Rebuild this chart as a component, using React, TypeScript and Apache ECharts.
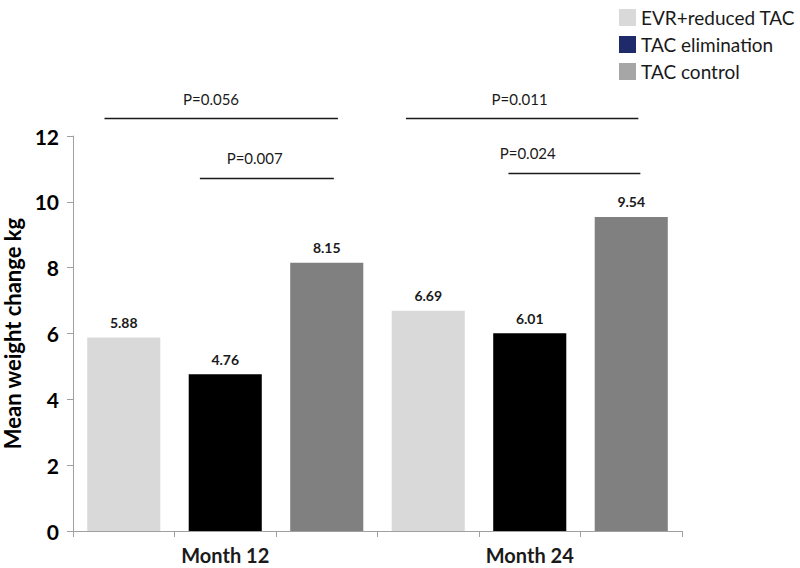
import React, { useEffect, useRef } from "react";
import * as echarts from "echarts";

const categories = ["M12-EVR", "M12-ELIM", "M12-CTRL", "M24-EVR", "M24-ELIM", "M24-CTRL"];
const groupLabels = ["Month 12", "Month 24"];
const seriesNames = ["EVR+reduced TAC", "TAC elimination", "TAC control"];
const evrValues = [5.88, null, null, 6.69, null, null];
const elimValues = [null, 4.76, null, null, 6.01, null];
const ctrlValues = [null, null, 8.15, null, null, 9.54];
const barColors = ["#d9d9d9", "#000000", "#808080"];
const legendColors = ["#d9d9d9", "#1f2a6b", "#a6a6a6"];
const yTicks = [0, 2, 4, 6, 8, 10, 12];

// significance annotations (x in category-slot units from axis start, y in data units)
const sigLabels = ["P=0.056", "P=0.007", "P=0.011", "P=0.024"];
const sigFrom = [0.31, 1.25, 3.28, 4.29];
const sigTo = [2.61, 2.57, 5.57, 5.59];
const sigLineY = [12.55, 10.72, 12.55, 10.87];
const sigTextX = [1.36, 1.79, 4.4, 4.48];
const sigTextY = [13.13, 11.33, 13.13, 11.48];

const FONT = "Lato, 'Open Sans', sans-serif";

export default function App() {
  const ref = useRef<HTMLDivElement>(null);
  useEffect(() => {
    if (!ref.current) return;
    const chart = echarts.init(ref.current, null, { renderer: "svg" });
    const seriesData = [evrValues, elimValues, ctrlValues];
    chart.setOption({
      animation: false,
      backgroundColor: "#ffffff",
      textStyle: { fontFamily: FONT },
      legend: {
        orient: "vertical",
        left: 614,
        top: 3,
        itemWidth: 17,
        itemHeight: 17,
        itemGap: 8,
        icon: "rect",
        textStyle: { fontSize: 19, color: "#1a1a1a", fontFamily: FONT },
        data: seriesNames.map((n, i) => ({ name: n, itemStyle: { color: legendColors[i] } })),
      },
      grid: { left: 73, right: 118, top: 136, bottom: 37, containLabel: false, outerBoundsMode: "none" },
      xAxis: [
        {
          type: "category",
          data: categories,
          axisLine: { lineStyle: { color: "#a0a0a0", width: 1 } },
          axisTick: { show: true, alignWithLabel: false, length: 6, lineStyle: { color: "#a0a0a0" } },
          axisLabel: { show: false },
        },
        {
          type: "category",
          data: groupLabels,
          position: "bottom",
          axisLine: { show: false },
          axisTick: { show: false },
          axisLabel: { show: true, margin: 14, fontSize: 20, fontWeight: "bold", color: "#1a1a1a", fontFamily: FONT },
        },
      ],
      yAxis: {
        type: "value",
        min: 0,
        max: 12,
        interval: 2,
        name: "Mean weight change kg",
        nameLocation: "middle",
        nameGap: 47,
        nameRotate: 90,
        nameTextStyle: { fontSize: 22, fontWeight: "bold", color: "#000", fontFamily: FONT },
        axisLine: { show: true, lineStyle: { color: "#a0a0a0" } },
        axisTick: { show: true, length: 6, lineStyle: { color: "#a0a0a0" } },
        splitLine: { show: false },
        axisLabel: {
          fontSize: 21,
          fontWeight: "bold",
          color: "#000",
          margin: 14,
          fontFamily: FONT,
          formatter: (v: number) => (yTicks.includes(v) ? String(v) : ""),
        },
      },
      series: seriesNames.map((n, i) => ({
        name: n,
        type: "bar",
        xAxisIndex: 0,
        barWidth: "72%",
        barGap: "-100%",
        itemStyle: { color: barColors[i] },
        data: seriesData[i].map((v) => (v === null ? "-" : v)),
        label: {
          show: true,
          position: "top",
          distance: 8,
          fontSize: 14,
          fontWeight: "bold",
          color: "#1a1a1a",
          fontFamily: FONT,
          formatter: (p: any) => Number(p.value).toFixed(2),
        },
      })),
    });

    const p0 = chart.convertToPixel({ gridIndex: 0 }, [0, 0]) as number[];
    const p1 = chart.convertToPixel({ gridIndex: 0 }, [1, 0]) as number[];
    const slot = p1[0] - p0[0];
    const x0 = p0[0] - slot / 2;
    const yPix = (v: number) => (chart.convertToPixel({ gridIndex: 0 }, [0, v]) as number[])[1];
    const xPix = (f: number) => x0 + f * slot;
    const graphics: any[] = [];
    sigLabels.forEach((lab, i) => {
      const y = Math.round(yPix(sigLineY[i])) + 0.5;
      graphics.push({
        type: "line",
        shape: { x1: xPix(sigFrom[i]), y1: y, x2: xPix(sigTo[i]), y2: y },
        style: { stroke: "#1a1a1a", lineWidth: 1.5 },
      });
      graphics.push({
        type: "text",
        x: xPix(sigTextX[i]),
        y: yPix(sigTextY[i]),
        style: {
          text: lab,
          fontSize: 15,
          fill: "#1a1a1a",
          fontFamily: FONT,
          align: "center",
          verticalAlign: "middle",
        },
      });
    });
    chart.setOption({ graphic: graphics });

    return () => chart.dispose();
  }, []);
  return <div ref={ref} style={{ width: 800, height: 568, position: "absolute", left: 0, top: 0 }} />;
}
